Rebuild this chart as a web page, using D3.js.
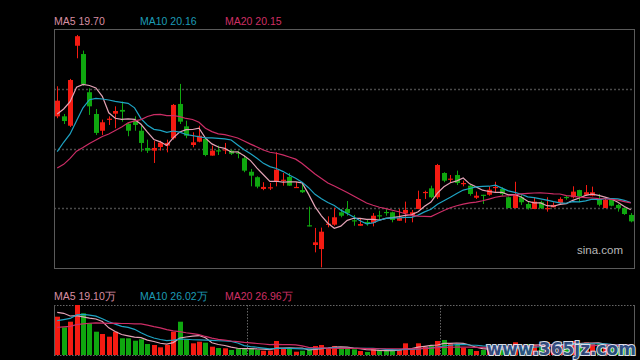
<!DOCTYPE html>
<html><head><meta charset="utf-8">
<script src="https://cdn.jsdelivr.net/npm/d3@7/dist/d3.min.js"></script>
<style>html,body{margin:0;padding:0;background:#000;}svg{display:block;}</style>
</head><body>
<svg id="c" width="640" height="360"></svg>
<script>
// ---- data ----
const priorCloses = [20.83,20.25,21.65,23.20,20.97,20.27,20.75,22.38,21.67,21.43,19.40,22.70,22.30,19.50,21.20,23.78,25.65,26.20,26.84];
const opens  = [25.68,25.68,25.08,30.19,29.66,27.22,25.83,24.76,25.49,25.85,26.09,25.21,25.40,24.76,23.66,23.49,23.72,23.81,24.28,26.47,
                25.04,23.85,24.06,24.23,23.17,23.51,23.53,23.49,23.36,23.00,22.14,21.79,21.04,21.08,21.50,21.59,21.81,21.12,20.97,18.72,
                17.46,17.20,18.78,18.76,19.55,19.76,19.04,18.69,18.93,18.87,19.36,19.57,19.55,19.01,19.49,19.33,19.76,20.80,21.08,20.51,
                22.06,21.66,21.93,21.38,21.25,20.48,20.67,20.67,21.12,21.04,20.51,19.82,20.51,20.08,19.76,20.19,19.76,19.87,20.14,20.53,
                20.51,20.97,20.67,20.61,20.40,19.82,20.40,20.02,19.81,19.38];
const highs  = [27.60,25.83,28.07,30.88,29.88,27.47,26.15,25.47,25.68,26.32,26.62,25.30,25.68,25.08,24.19,24.12,24.12,24.19,26.47,27.75,
                25.40,24.66,25.08,24.34,23.81,23.81,23.98,23.55,23.49,23.17,22.32,21.85,21.47,21.42,23.38,22.06,22.06,21.50,21.36,19.91,
                18.55,18.57,19.29,19.84,19.76,20.27,19.38,19.12,19.12,19.50,19.65,19.76,19.59,19.76,20.23,19.70,20.93,20.93,21.25,22.64,
                22.11,21.93,22.21,21.57,21.29,20.87,20.67,21.21,21.50,21.15,20.55,21.50,20.65,20.23,20.51,20.29,20.51,20.19,20.51,20.61,
                21.21,20.99,21.29,21.19,20.72,20.40,20.44,20.08,19.87,19.50];
const lows   = [25.56,25.19,25.00,29.39,27.64,25.77,24.49,24.49,25.13,24.92,25.34,24.41,24.76,23.42,23.34,22.70,23.49,23.38,24.19,25.19,
                24.28,23.70,24.02,23.13,23.17,23.21,23.27,23.21,23.00,22.11,21.21,21.08,20.96,20.97,21.21,21.25,21.23,21.12,20.78,18.65,
                16.99,16.03,18.59,18.69,19.23,19.33,18.69,18.69,18.69,18.65,19.06,19.33,18.91,19.01,18.88,18.91,19.76,20.40,20.44,20.40,
                21.47,21.42,21.29,21.21,20.61,20.40,20.08,20.61,20.83,20.61,19.82,19.82,20.02,19.72,19.76,19.76,19.59,19.87,20.02,20.35,
                20.44,20.19,20.61,20.57,19.93,19.82,19.93,19.59,19.38,18.91];
const closes = [26.68,25.38,28.00,30.80,27.75,26.32,24.62,25.30,25.53,26.02,25.98,24.76,25.13,23.98,23.49,23.66,24.00,23.98,26.41,25.34,
                24.44,24.02,24.44,23.21,23.49,23.45,23.57,23.29,23.29,22.21,21.89,21.19,21.17,21.15,22.27,21.63,21.25,21.17,20.83,18.67,
                17.63,18.31,18.82,19.23,19.33,19.49,18.97,18.80,18.87,19.33,19.29,19.50,19.06,19.19,19.70,19.55,20.40,20.85,20.51,22.57,
                21.57,21.70,21.42,21.42,20.72,20.61,20.64,20.99,21.17,20.72,19.82,20.72,20.19,19.81,20.23,19.81,19.82,20.02,20.40,20.46,
                20.87,20.57,20.83,20.83,20.03,20.34,19.97,19.81,19.44,18.97];
// volume in 万
const priorVolumes = [50,62,45,70,55,48,66,60,52,67,45,60,40,100,109,89.6,127.4,132.5,128.9];
const volumes = [104.6,75.6,90.9,136.5,113.8,86.5,63.6,57.3,50.0,63.6,45.6,45.6,39.0,42.9,30.0,27.3,21.0,27.3,63.6,90.9,
                 42.9,31.9,36.3,33.6,22.7,19.1,18.3,13.7,18.3,18.3,18.3,13.7,11.7,11.7,38.2,18.3,18.3,9.0,11.7,13.7,
                 24.6,27.3,18.3,24.6,17.0,20.0,15.6,10.9,8.2,15.6,13.7,11.7,11.7,13.7,31.9,18.3,31.9,22.7,25.4,38.2,
                 41.0,31.9,27.3,19.9,16.4,10.9,13.7,18.3,22.7,15.6,18.3,34.7,25,30,28,22,35,26,30,30,
                 38,30,34,32,30.7,22,18,20,17,18.5];
const maPeriods = [5,10,20];
const maNames = ["MA5","MA10","MA20"];
const priceLegend = ["19.70","20.16","20.15"];
const volLegend = ["19.10万","26.02万","26.96万"];
const priceDomain = [15.99,31.26];
const sepIndex = [30,60];

// ---- style ----
const W=640,H=360;
const mainBox={l:54,r:634,t:29,b:268};
const volBox={t:305,b:355};
const UP="#f51b12", DOWN="#0fa70f";
const maColors=["#e3a3b6","#1ea4c4","#cc2d66"];
const legendColors=["#d88ea2","#1c9bb6","#cf2f64"];
const gridColor="#4a4a4a", borderColor="#5a5a5a";

const svg=d3.select("#c");
svg.append("rect").attr("width",W).attr("height",H).attr("fill","#000");
const n=closes.length;
const idx=d3.range(n);
const x=d3.scaleBand().domain(idx).range([mainBox.l,mainBox.r]).paddingInner(0.24).paddingOuter(0.12);
const cx=i=>x(i)+x.bandwidth()/2;
const y=d3.scaleLinear().domain(priceDomain).range([mainBox.b,mainBox.t]);
const yv=d3.scaleLinear().domain([0,d3.max(volumes)]).range([volBox.b,volBox.t]);

function ma(prior,vals,p){
  const all=prior.concat(vals), off=prior.length;
  return vals.map((v,i)=>d3.mean(all.slice(off+i-p+1,off+i+1)));
}

// main frame and grid
const gq=d3.range(1,4).map(k=>mainBox.t+(mainBox.b-mainBox.t)*k/4);
svg.append("g").selectAll("line").data(gq).join("line")
  .attr("x1",mainBox.l).attr("x2",mainBox.r).attr("y1",d=>Math.round(d)+0.5).attr("y2",d=>Math.round(d)+0.5)
  .attr("stroke",gridColor).attr("stroke-width",1.5).attr("stroke-dasharray","2,2");
svg.append("rect").attr("x",mainBox.l+0.5).attr("y",mainBox.t+0.5).attr("width",mainBox.r-mainBox.l).attr("height",mainBox.b-mainBox.t)
  .attr("fill","none").attr("stroke",borderColor);

// candles
const gC=svg.append("g");
gC.selectAll("line").data(idx).join("line")
  .attr("x1",i=>Math.round(cx(i))+0.5).attr("x2",i=>Math.round(cx(i))+0.5)
  .attr("y1",i=>y(highs[i])).attr("y2",i=>y(lows[i]))
  .attr("stroke",i=>closes[i]>=opens[i]?UP:DOWN).attr("stroke-width",1);
gC.selectAll("rect").data(idx).join("rect")
  .attr("x",i=>Math.round(cx(i))-2).attr("width",5)
  .attr("y",i=>y(Math.max(opens[i],closes[i])))
  .attr("height",i=>Math.max(1.2,Math.abs(y(opens[i])-y(closes[i]))))
  .attr("fill",i=>closes[i]>=opens[i]?UP:DOWN);

// MA lines
const line=d3.line().x((d,i)=>cx(i)).curve(d3.curveLinear);
maPeriods.forEach((p,k)=>{
  const m=ma(priorCloses,closes,p);
  svg.append("path").attr("d",line.y(d=>y(d))(m)).attr("fill","none").attr("stroke",maColors[k]).attr("stroke-width",1.2);
});

// legends
const legX=[54,140,225];
maNames.forEach((nm,k)=>{
  svg.append("text").attr("x",legX[k]).attr("y",25).attr("fill",legendColors[k])
    .attr("font-family","Liberation Sans, Arial, sans-serif").attr("font-size",10.5).text(nm+" "+priceLegend[k]);
  svg.append("text").attr("x",legX[k]).attr("y",300).attr("fill",legendColors[k])
    .attr("font-family","Liberation Sans, Arial, sans-serif").attr("font-size",10.5).text(nm+" "+volLegend[k]);
});
svg.append("text").attr("x",623).attr("y",254).attr("text-anchor","end").attr("fill","#b8b8b8")
  .attr("font-family","Liberation Sans, Arial, sans-serif").attr("font-size",11.5).text("sina.com");

// volume panel
svg.append("line").attr("x1",mainBox.l).attr("x2",mainBox.r).attr("y1",volBox.t+0.5).attr("y2",volBox.t+0.5)
  .attr("stroke","#666").attr("stroke-dasharray","1.5,1.5");
svg.append("line").attr("x1",mainBox.l).attr("x2",mainBox.r).attr("y1",volBox.b+0.5).attr("y2",volBox.b+0.5)
  .attr("stroke","#666").attr("stroke-dasharray","1.5,1.5");
svg.append("line").attr("x1",mainBox.l+0.5).attr("x2",mainBox.l+0.5).attr("y1",volBox.t).attr("y2",volBox.b).attr("stroke",borderColor);
svg.append("line").attr("x1",mainBox.r+0.5).attr("x2",mainBox.r+0.5).attr("y1",volBox.t).attr("y2",volBox.b).attr("stroke",borderColor);
svg.append("g").selectAll("line").data(sepIndex).join("line")
  .attr("x1",i=>Math.round(x(i)-1)+0.5).attr("x2",i=>Math.round(x(i)-1)+0.5).attr("y1",volBox.t).attr("y2",volBox.b)
  .attr("stroke","#666").attr("stroke-dasharray","1.5,1.5");
svg.append("g").selectAll("rect").data(idx).join("rect")
  .attr("x",i=>Math.round(cx(i))-2).attr("width",5)
  .attr("y",i=>yv(volumes[i])).attr("height",i=>volBox.b-yv(volumes[i]))
  .attr("fill",i=>closes[i]>=opens[i]?UP:DOWN);
maPeriods.forEach((p,k)=>{
  const m=ma(priorVolumes,volumes,p);
  svg.append("path").attr("d",line.y(d=>yv(d))(m)).attr("fill","none").attr("stroke",maColors[k]).attr("stroke-width",1.2);
});

// watermark
svg.append("text").attr("x",636).attr("y",355).attr("text-anchor","end")
  .attr("font-family","DejaVu Sans, sans-serif").attr("font-weight","bold").attr("font-size",17)
  .attr("fill","#2c4e86").attr("stroke","#e8eef8").attr("stroke-width",2).attr("paint-order","stroke")
  .attr("opacity",0.92).text("www.365jz.com");
</script>
</body></html>
